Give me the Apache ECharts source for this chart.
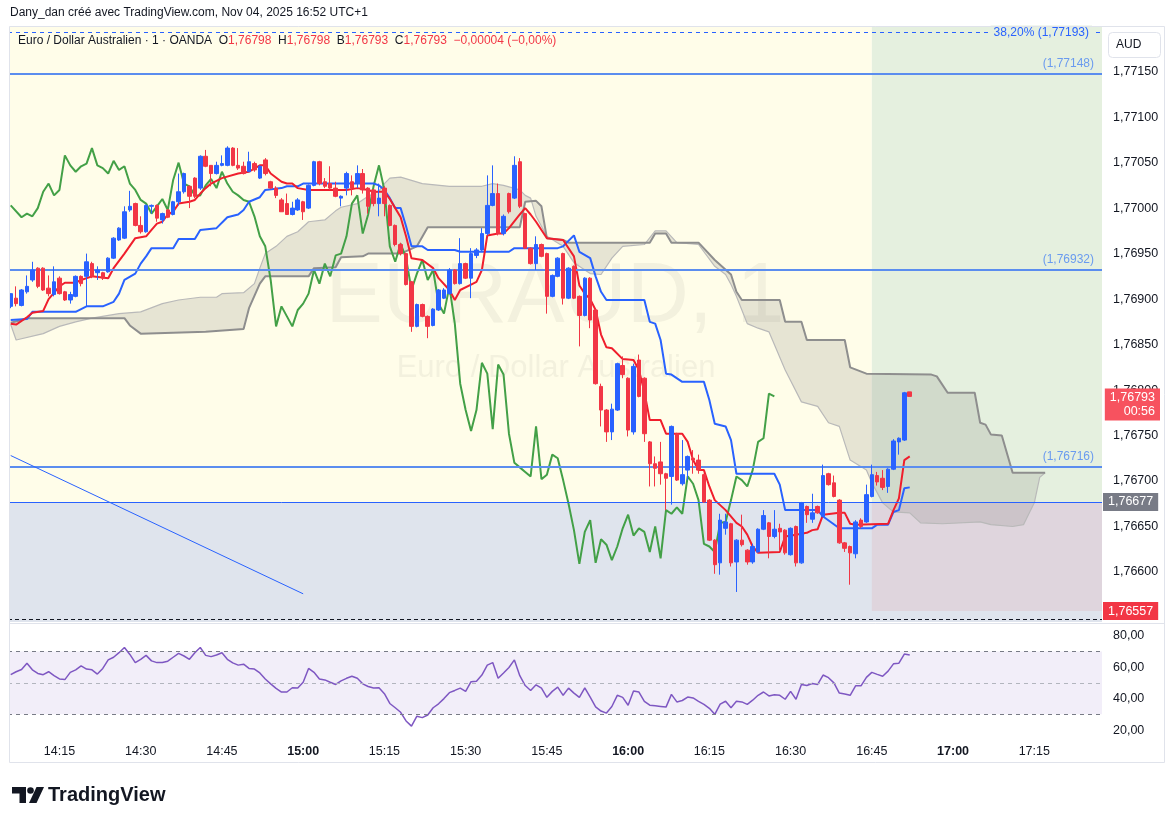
<!DOCTYPE html>
<html>
<head>
<meta charset="utf-8">
<title>EURAUD 1</title>
<script src="https://cdn.jsdelivr.net/npm/echarts@6/dist/echarts.min.js"></script>
<style>
html,body{margin:0;padding:0;background:#ffffff;}
#chart{width:1175px;height:824px;}
</style>
</head>
<body>
<div id="chart"></div>
<script>
// ---------- DATA ----------
const firstMinute = 14 * 60 + 6;   // first bar 14:06
const categoryCount = 202;         // 14:06 .. 17:27 (future space included)
const categories = Array.from({length: categoryCount}, (_, k) => {
  const m = firstMinute + k;
  return String(Math.floor(m / 60)).padStart(2, '0') + ':' + String(m % 60).padStart(2, '0');
});
const timeTicks = ['14:15','14:30','14:45','15:00','15:15','15:30','15:45','16:00','16:15','16:30','16:45','17:00','17:15'];
const boldTimeTicks = ['15:00','16:00','17:00'];
const priceTicks = [1.7660,1.7665,1.7670,1.7675,1.7680,1.7685,1.7690,1.7695,1.7700,1.7705,1.7710,1.7715];
const rsiTicks = [20,40,60,80];

const opens = [1.76892,1.76901,1.76893,1.76908,1.76921,1.76934,1.76934,1.76912,1.76905,1.76923,
1.76908,1.76899,1.76903,1.76925,1.76925,1.76939,1.76929,1.76929,1.76930,1.76945,
1.76965,1.76967,1.76998,1.77005,1.76981,1.76974,1.77002,1.77003,1.76987,1.76998,
1.76993,1.77007,1.77018,1.77024,1.77033,1.77022,1.77057,1.77047,1.77038,1.77047,
1.77047,1.77066,1.77047,1.77046,1.77040,1.77049,1.77033,1.77053,1.77029,1.77022,
1.77009,1.77005,1.76993,1.76998,1.77007,1.77000,1.77025,1.77051,1.77029,1.77027,
1.77022,1.77011,1.77022,1.77029,1.77027,1.77038,1.77022,1.77020,1.77005,1.77022,
1.77003,1.76981,1.76960,1.76950,1.76919,1.76870,1.76894,1.76881,1.76871,1.76888,
1.76901,1.76906,1.76932,1.76917,1.76939,1.76923,1.76948,1.76954,1.76972,1.77003,
1.77016,1.76972,1.77016,1.77011,1.77051,1.76994,1.76956,1.76939,1.76960,1.76950,
1.76903,1.76925,1.76950,1.76901,1.76936,1.76903,1.76882,1.76923,1.76888,1.76804,
1.76778,1.76754,1.76778,1.76827,1.76813,1.76754,1.76833,1.76813,1.76743,1.76719,
1.76721,1.76708,1.76705,1.76752,1.76697,1.76712,1.76725,1.76723,1.76707,1.76679,
1.76635,1.76610,1.76648,1.76653,1.76611,1.76635,1.76624,1.76611,1.76622,1.76647,
1.76654,1.76639,1.76648,1.76646,1.76619,1.76650,1.76610,1.76672,1.76658,1.76672,
1.76661,1.76708,1.76698,1.76679,1.76632,1.76628,1.76620,1.76657,1.76655,1.76683,
1.76706,1.76703,1.76694,1.76713,1.76743,1.76745,1.76798];
const highs = [1.76906,1.76914,1.76911,1.76926,1.76941,1.76935,1.76935,1.76926,1.76936,1.76925,
1.76909,1.76908,1.76926,1.76926,1.76950,1.76941,1.76936,1.76930,1.76946,1.76968,
1.76979,1.77002,1.77019,1.77006,1.76991,1.77004,1.77004,1.77004,1.76995,1.76999,
1.77008,1.77038,1.77039,1.77025,1.77034,1.77058,1.77064,1.77047,1.77051,1.77058,
1.77068,1.77067,1.77066,1.77051,1.77062,1.77051,1.77047,1.77055,1.77030,1.77024,
1.77011,1.77016,1.77007,1.77011,1.77008,1.77026,1.77052,1.77052,1.77033,1.77046,
1.77029,1.77014,1.77040,1.77036,1.77047,1.77043,1.77023,1.77021,1.77027,1.77024,
1.77004,1.76982,1.76962,1.76951,1.76920,1.76895,1.76895,1.76882,1.76890,1.76911,
1.76912,1.76934,1.76933,1.76967,1.76940,1.76956,1.76956,1.76978,1.77036,1.77047,
1.77027,1.76993,1.77017,1.77057,1.77055,1.76995,1.76957,1.76969,1.76961,1.76951,
1.76927,1.76946,1.76951,1.76935,1.76937,1.76904,1.76924,1.76924,1.76889,1.76807,
1.76779,1.76785,1.76830,1.76837,1.76814,1.76829,1.76839,1.76814,1.76744,1.76727,
1.76743,1.76709,1.76761,1.76753,1.76745,1.76728,1.76734,1.76729,1.76708,1.76680,
1.76636,1.76664,1.76664,1.76654,1.76636,1.76663,1.76625,1.76631,1.76648,1.76668,
1.76655,1.76668,1.76653,1.76647,1.76649,1.76651,1.76677,1.76673,1.76686,1.76673,
1.76718,1.76709,1.76706,1.76680,1.76633,1.76629,1.76657,1.76659,1.76696,1.76718,
1.76710,1.76712,1.76714,1.76746,1.76748,1.76798,1.76798];
const lows = [1.76890,1.76892,1.76892,1.76906,1.76919,1.76912,1.76909,1.76903,1.76903,1.76905,
1.76898,1.76895,1.76902,1.76914,1.76892,1.76923,1.76921,1.76921,1.76929,1.76944,
1.76964,1.76966,1.76996,1.76980,1.76972,1.76973,1.76994,1.76985,1.76983,1.76989,
1.76992,1.77003,1.77016,1.77000,1.77011,1.77020,1.77045,1.77024,1.77037,1.77046,
1.77046,1.77046,1.77042,1.77037,1.77040,1.77040,1.77032,1.77036,1.77021,1.77011,
1.76996,1.76993,1.76992,1.76997,1.76987,1.76999,1.77024,1.77025,1.77022,1.77020,
1.77012,1.77002,1.77014,1.77014,1.77022,1.77016,1.76994,1.77002,1.76991,1.76991,
1.76980,1.76958,1.76948,1.76915,1.76864,1.76869,1.76880,1.76857,1.76870,1.76887,
1.76900,1.76905,1.76916,1.76916,1.76922,1.76901,1.76945,1.76953,1.76970,1.77002,
1.76970,1.76970,1.76994,1.77010,1.77000,1.76955,1.76938,1.76932,1.76946,1.76884,
1.76902,1.76924,1.76894,1.76900,1.76900,1.76848,1.76881,1.76868,1.76806,1.76760,
1.76743,1.76745,1.76777,1.76813,1.76749,1.76751,1.76792,1.76743,1.76694,1.76694,
1.76696,1.76668,1.76674,1.76700,1.76695,1.76701,1.76708,1.76708,1.76676,1.76634,
1.76598,1.76597,1.76641,1.76606,1.76578,1.76628,1.76608,1.76609,1.76621,1.76646,
1.76615,1.76637,1.76624,1.76619,1.76618,1.76606,1.76609,1.76654,1.76654,1.76664,
1.76660,1.76695,1.76682,1.76631,1.76622,1.76586,1.76615,1.76648,1.76654,1.76682,
1.76695,1.76690,1.76687,1.76712,1.76729,1.76744,1.76793];
const closes = [1.76906,1.76895,1.76910,1.76914,1.76932,1.76914,1.76910,1.76906,1.76919,1.76906,
1.76899,1.76905,1.76925,1.76917,1.76941,1.76925,1.76932,1.76923,1.76945,1.76967,
1.76978,1.76996,1.77002,1.76981,1.76974,1.77003,1.77003,1.76989,1.76994,1.76990,
1.77007,1.77018,1.77038,1.77013,1.77013,1.77057,1.77046,1.77038,1.77047,1.77049,
1.77066,1.77047,1.77044,1.77038,1.77051,1.77042,1.77046,1.77038,1.77022,1.77014,
1.76996,1.76993,1.77000,1.77009,1.76996,1.77025,1.77051,1.77027,1.77024,1.77022,
1.77013,1.77013,1.77038,1.77022,1.77038,1.77020,1.77002,1.77005,1.77011,1.77005,
1.76981,1.76960,1.76950,1.76916,1.76870,1.76894,1.76881,1.76870,1.76889,1.76910,
1.76910,1.76932,1.76917,1.76939,1.76923,1.76950,1.76954,1.76972,1.77003,1.77016,
1.76972,1.76991,1.76996,1.77047,1.77002,1.76956,1.76939,1.76960,1.76947,1.76903,
1.76926,1.76945,1.76901,1.76934,1.76901,1.76882,1.76923,1.76877,1.76807,1.76778,
1.76754,1.76779,1.76829,1.76817,1.76756,1.76826,1.76793,1.76752,1.76719,1.76714,
1.76708,1.76703,1.76760,1.76701,1.76707,1.76727,1.76723,1.76712,1.76677,1.76635,
1.76608,1.76657,1.76655,1.76610,1.76635,1.76630,1.76611,1.76628,1.76647,1.76662,
1.76639,1.76647,1.76644,1.76621,1.76648,1.76610,1.76676,1.76663,1.76665,1.76665,
1.76706,1.76696,1.76683,1.76632,1.76626,1.76621,1.76655,1.76650,1.76685,1.76707,
1.76699,1.76693,1.76713,1.76744,1.76747,1.76797,1.76793];

// Ichimoku lines, [bar index, price] vertices
const tenkan = [[0,1.76873],[1,1.76872],[3,1.76880],[4,1.76885],[6,1.76887],[7,1.76900],[9,1.76914],[10,1.76918],[12,1.76918],[13,1.76921],[15,1.76925],[18,1.76923],[19,1.76934],[21,1.76950],[23,1.76967],[25,1.76969],[26,1.76976],[27,1.76983],[28,1.76985],[29,1.76993],[30,1.76996],[31,1.77005],[33,1.77007],[34,1.77009],[35,1.77016],[36,1.77022],[37,1.77027],[39,1.77033],[42,1.77038],[44,1.77040],[46,1.77047],[47,1.77047],[48,1.77038],[50,1.77029],[51,1.77027],[52,1.77027],[53,1.77022],[55,1.77020],[62,1.77020],[64,1.77022],[66,1.77020],[67,1.77018],[69,1.77018],[70,1.77010],[71,1.77000],[72,1.76990],[73,1.76969],[74,1.76945],[76,1.76943],[78,1.76934],[79,1.76923],[81,1.76910],[82,1.76899],[83,1.76910],[85,1.76916],[86,1.76919],[87,1.76932],[88,1.76970],[90,1.76972],[91,1.76972],[92,1.76978],[94,1.76993],[95,1.77000],[96,1.76993],[97,1.76985],[98,1.76976],[99,1.76967],[102,1.76965],[104,1.76947],[105,1.76915],[106,1.76906],[107,1.76900],[108,1.76888],[109,1.76861],[110,1.76847],[111,1.76846],[113,1.76834],[115,1.76833],[116,1.76822],[117,1.76798],[118,1.76767],[120,1.76767],[121,1.76752],[124,1.76752],[125,1.76743],[126,1.76723],[127,1.76712],[128,1.76712],[129,1.76694],[130,1.76679],[132,1.76668],[134,1.76654],[135,1.76650],[136,1.76641],[137,1.76628],[138,1.76621],[142,1.76622],[143,1.76639],[145,1.76641],[147,1.76643],[148,1.76646],[149,1.76647],[150,1.76663],[153,1.76665],[154,1.76665],[155,1.76653],[156,1.76652],[162,1.76653],[163,1.76668],[164,1.76681],[165,1.76723],[166,1.76727]];
const kijun = [[0,1.76877],[3,1.76878],[4,1.76886],[12,1.76886],[14,1.76892],[17,1.76892],[19,1.76897],[20,1.76906],[21,1.76921],[23,1.76928],[24,1.76939],[25,1.76947],[26,1.76956],[30,1.76956],[31,1.76966],[34,1.76966],[35,1.76976],[38,1.76978],[40,1.76990],[42,1.76993],[43,1.76998],[44,1.77007],[46,1.77012],[47,1.77020],[50,1.77022],[51,1.77024],[53,1.77024],[54,1.77027],[67,1.77027],[68,1.77025],[69,1.77020],[70,1.77011],[71,1.77000],[72,1.77000],[73,1.76980],[74,1.76958],[76,1.76958],[77,1.76954],[82,1.76954],[83,1.76952],[92,1.76952],[93,1.76956],[101,1.76956],[102,1.76958],[104,1.76970],[105,1.76952],[107,1.76945],[108,1.76925],[109,1.76908],[110,1.76899],[117,1.76899],[118,1.76875],[119,1.76873],[120,1.76855],[121,1.76818],[122,1.76817],[124,1.76809],[128,1.76809],[129,1.76789],[130,1.76763],[132,1.76760],[133,1.76745],[134,1.76708],[141,1.76708],[142,1.76696],[143,1.76668],[149,1.76668],[150,1.76661],[153,1.76648],[159,1.76648],[160,1.76652],[162,1.76652],[163,1.76666],[164,1.76668],[165,1.76692],[166,1.76693]];
const chikou = [[0,1.77003],[2,1.76990],[3,1.76994],[4,1.76991],[5,1.77000],[6,1.77018],[7,1.77027],[8,1.77014],[9,1.77020],[10,1.77058],[11,1.77047],[12,1.77040],[13,1.77046],[14,1.77049],[15,1.77066],[16,1.77047],[17,1.77044],[18,1.77038],[19,1.77052],[20,1.77042],[21,1.77046],[22,1.77027],[23,1.77020],[24,1.77009],[25,1.77005],[26,1.76994],[27,1.77002],[28,1.77010],[29,1.76998],[30,1.77031],[31,1.77050],[32,1.77027],[33,1.77024],[34,1.77014],[35,1.77014],[36,1.77025],[37,1.77032],[38,1.77022],[39,1.77040],[40,1.77027],[41,1.77018],[42,1.77014],[43,1.77009],[44,1.77007],[45,1.76991],[46,1.76969],[47,1.76958],[48,1.76921],[49,1.76870],[50,1.76892],[51,1.76881],[52,1.76870],[53,1.76888],[54,1.76895],[55,1.76906],[56,1.76932],[57,1.76917],[58,1.76939],[59,1.76925],[60,1.76948],[61,1.76950],[62,1.76969],[63,1.77005],[64,1.77014],[65,1.76972],[66,1.76993],[67,1.77024],[68,1.77047],[69,1.77020],[70,1.76958],[71,1.76941],[72,1.76961],[73,1.76945],[74,1.76910],[75,1.76928],[76,1.76943],[77,1.76921],[78,1.76932],[79,1.76895],[80,1.76884],[81,1.76914],[82,1.76873],[83,1.76807],[84,1.76778],[85,1.76755],[86,1.76778],[87,1.76830],[88,1.76818],[89,1.76757],[90,1.76828],[91,1.76817],[92,1.76752],[93,1.76720],[94,1.76715],[95,1.76710],[96,1.76705],[97,1.76760],[98,1.76702],[99,1.76707],[100,1.76729],[101,1.76725],[102,1.76701],[103,1.76675],[104,1.76646],[105,1.76609],[106,1.76644],[107,1.76657],[108,1.76610],[109,1.76636],[110,1.76630],[111,1.76613],[112,1.76628],[113,1.76648],[114,1.76663],[115,1.76640],[116,1.76648],[117,1.76644],[118,1.76622],[119,1.76650],[120,1.76615],[121,1.76668],[122,1.76664],[123,1.76671],[124,1.76664],[125,1.76705],[126,1.76697],[127,1.76679],[128,1.76631],[129,1.76628],[130,1.76622],[131,1.76654],[132,1.76655],[133,1.76679],[134,1.76705],[135,1.76701],[136,1.76694],[137,1.76712],[138,1.76743],[139,1.76747],[140,1.76796],[141,1.76793]];
const spanDark = [[0,1.76874],[2,1.76877],[3,1.76879],[21,1.76879],[22,1.76871],[24,1.76862],[36,1.76864],[43,1.76867],[44,1.76890],[46,1.76917],[47,1.76925],[55,1.76925],[56,1.76934],[60,1.76935],[61,1.76946],[65,1.76947],[66,1.76950],[72,1.76950],[75,1.76958],[77,1.76979],[94,1.76979],[95,1.77007],[97,1.77008],[98,1.77002],[99,1.76967],[102,1.76965],[103,1.76962],[118,1.76962],[119,1.76972],[121,1.76972],[122,1.76962],[127,1.76962],[130,1.76943],[133,1.76927],[134,1.76908],[135,1.76899],[142,1.76899],[143,1.76875],[146,1.76875],[147,1.76855],[154,1.76855],[155,1.76825],[158,1.76818],[170,1.76817],[171,1.76815],[173,1.76797],[178,1.76797],[179,1.76764],[180,1.76762],[181,1.76751],[183,1.76750],[185,1.76709],[191,1.76709]];
const spanLight = [[0,1.76872],[1,1.76855],[6,1.76862],[9,1.76870],[12,1.76875],[15,1.76879],[20,1.76884],[24,1.76886],[28,1.76895],[31,1.76899],[35,1.76902],[38,1.76902],[39,1.76906],[43,1.76907],[45,1.76917],[46,1.76934],[47,1.76950],[49,1.76958],[51,1.76969],[53,1.76974],[55,1.76985],[58,1.76987],[60,1.76997],[61,1.77001],[64,1.77005],[66,1.77013],[68,1.77019],[69,1.77027],[70,1.77033],[72,1.77034],[76,1.77027],[81,1.77024],[87,1.77024],[89,1.77027],[91,1.77025],[94,1.77020],[95,1.77014],[96,1.77011],[97,1.76991],[98,1.76980],[99,1.76969],[102,1.76958],[104,1.76940],[107,1.76928],[109,1.76927],[111,1.76945],[113,1.76958],[117,1.76960],[119,1.76975],[121,1.76975],[123,1.76962],[127,1.76960],[130,1.76936],[132,1.76927],[133,1.76916],[134,1.76903],[135,1.76888],[136,1.76873],[138,1.76868],[140,1.76864],[143,1.76822],[146,1.76787],[149,1.76782],[151,1.76764],[153,1.76760],[155,1.76723],[158,1.76712],[159,1.76698],[161,1.76676],[163,1.76666],[166,1.76665],[168,1.76654],[172,1.76653],[179,1.76655],[181,1.76652],[185,1.76650],[187,1.76652],[189,1.76676],[190,1.76704],[191,1.76709]];

const rsi = [55.2,57.1,58.5,62.5,58.3,56,55.2,57.1,54.6,52.5,
52.1,56.7,58.3,60.8,58.8,58.3,55.6,59.2,64.6,66.3,
69.2,72.5,68.1,62.9,65,67.5,64,62.9,62.9,63.8,
66.3,68.8,67.1,65,69.2,72.5,67.5,66.7,67.7,69.2,
65,62.7,61.3,61.9,59.2,58.8,56.3,52.5,49.4,46.5,
44.2,44.2,46.9,46.7,50.4,59.2,56.7,52.5,51.9,50.4,
49,51.3,52.9,54.2,52.9,49.4,47.7,46.7,46.9,43.1,
36.9,34.2,31.3,25.8,22.5,28.8,27.9,29.6,34.2,36.7,
40,43.8,45.2,46.7,44.6,50.8,51,55,61.3,62.9,
52.9,56.3,59.8,64.6,54.6,48.3,45.2,48.8,46.7,40.8,
44.6,47.3,42.1,46.7,43.5,40.8,46.9,41,34.8,32.1,
30.8,35,42.1,40.8,35.8,44.8,44.2,38.3,35.8,35.4,
35,34.6,42.7,37.9,38.8,41,40.4,38.3,36.3,33.8,
30,36.5,38.3,34.2,38.3,37.9,36.3,39,42.1,44.2,
41.7,42.5,42.1,39.6,44.6,39.6,49,48.3,49.6,49,
55,53.3,50,43.5,42.9,42.1,48.1,48.1,53.5,56.7,
55.4,54.2,57.5,62.1,62.5,68.3,67.7];
const rsiLevels = [70, 50, 30];
const rsiBand = [30, 70];

// Drawings
const priceLevels = [1.77148, 1.76932, 1.76716];
const fibLevel = 1.77193;
const fibText = '38,20%';
const entryPrice = 1.76677;
const stopPrice = 1.76557;
const lowerDashed = 1.76548;
const trendLine = [[0, 1.76728], [54, 1.76576]];
const positionStartIndex = 159;
const countdownText = '00:56';
const priceMin = 1.76545, priceMax = 1.7720;
const rsiMin = 14, rsiMax = 87;

const headerText = 'Dany_dan créé avec TradingView.com, Nov 04, 2025 16:52 UTC+1';
const symbolText = 'Euro / Dollar Australien · 1 · OANDA';
const watermarkMain = 'EURAUD, 1';
const watermarkSub = 'Euro / Dollar Australien';

// ---------- HELPERS ----------
const FONT = '"Liberation Sans", Arial, sans-serif';
const fmt = v => v.toFixed(5).replace('.', ',');
const last = opens.length - 1;
const chg = closes[last] - closes[last - 1];
const chgPct = chg / closes[last - 1] * 100;
const signed = (v, d) => (v < 0 ? '\u2212' : '+') + Math.abs(v).toFixed(d).replace('.', ',');
const CLEAR = 'rgba(0,0,0,0)';

// zone bounds: [fromIndex|null, toIndex|null, low, high]
const zoneBounds = [
  [null, null, priceMin, entryPrice],
  [null, positionStartIndex, entryPrice, priceMax],
  [positionStartIndex, null, entryPrice, priceMax],
  [positionStartIndex, null, stopPrice, entryPrice]
];
const zoneColors = ['#dfe4ed', '#fffde9', '#e5f0df', '#dfd5dd'];

function zoneRenderer(bounds, colors) {
  return function (params, api) {
    const cs = params.coordSys;
    const z = bounds[params.dataIndex];
    const x0 = z[0] === null ? cs.x : api.coord([z[0], z[3]])[0];
    const x1 = z[1] === null ? cs.x + cs.width : api.coord([z[1], z[3]])[0];
    const yTop = api.coord([0, z[3]])[1];
    const yBot = api.coord([0, z[2]])[1];
    return { type: 'rect', silent: true,
      shape: { x: x0, y: yTop, width: x1 - x0, height: yBot - yTop },
      style: { fill: colors[params.dataIndex] } };
  };
}

const candleData = opens.map((o, k) => [o, closes[k], lows[k], highs[k]]);

const axisLabelStyle = { color: '#131722', fontSize: 12.5, fontFamily: FONT };

const lineSeries = (name, data, color, width, z) => ({
  name, type: 'line', data, xAxisIndex: 0, yAxisIndex: 0, showSymbol: false, symbol: 'none',
  lineStyle: { color, width }, z, silent: true, clip: true
});

const axisTagLabel = (text, bg) => ({ show: true, position: 'end', distance: 1, formatter: text, backgroundColor: bg,
  color: '#ffffff', padding: [3, 5, 2, 5], fontSize: 12.5, fontFamily: FONT });

const drawingMarkLines = [
  { yAxis: fibLevel, lineStyle: { color: '#2962ff', width: 1, type: [4, 4] },
    label: { show: true, position: 'insideEnd', distance: 10, formatter: fibText + ' (' + fmt(fibLevel) + ')',
      color: '#2962ff', backgroundColor: '#e5f0df', padding: [1, 3], fontSize: 12, fontFamily: FONT } },
  ...priceLevels.map(p => ({ yAxis: p, lineStyle: { color: '#5b8def', width: 2, type: 'solid' },
    label: { show: true, position: 'insideEndTop', distance: [8, 4], formatter: '(' + fmt(p) + ')',
      color: '#6a9bef', fontSize: 12, fontFamily: FONT } })),
  { yAxis: entryPrice, lineStyle: { color: '#2962ff', width: 1, type: 'solid' }, label: axisTagLabel(fmt(entryPrice), '#787b86') },
  { yAxis: lowerDashed, lineStyle: { color: '#131722', width: 1, type: [4, 3] }, label: { show: false } },
  { yAxis: stopPrice, lineStyle: { color: CLEAR, width: 1 }, label: axisTagLabel(fmt(stopPrice), '#f23645') },
  { yAxis: closes[last], lineStyle: { color: CLEAR, width: 1 },
    label: { show: true, position: 'insideEndBottom', distance: [-58, -8],
      formatter: fmt(closes[last]) + '\n' + countdownText, backgroundColor: '#f7525f',
      color: '#ffffff', lineHeight: 14, padding: [2, 5, 2, 5], fontSize: 12.5, fontFamily: FONT } }
];

const trendSeries = lineSeries('trend', trendLine, '#2962ff', 1, 6);
trendSeries.markLine = { silent: true, symbol: ['none', 'none'], animation: false, precision: 5, data: drawingMarkLines };

const option = {
  animation: false,
  backgroundColor: '#ffffff',
  grid: [
    { left: 8, width: 1094, top: 26.2, height: 595.8, outerBoundsMode: 'none', containLabel: false },
    { left: 8, width: 1094, top: 624.7, height: 114.8, outerBoundsMode: 'none', containLabel: false }
  ],
  xAxis: [
    { type: 'category', data: categories, gridIndex: 0, boundaryGap: true,
      axisLine: { show: false }, axisTick: { show: false }, axisLabel: { show: false }, splitLine: { show: false } },
    { type: 'category', data: categories, gridIndex: 1, boundaryGap: true,
      axisLine: { show: false }, axisTick: { show: false }, splitLine: { show: false },
      axisLabel: Object.assign({}, axisLabelStyle, {
        margin: 6,
        interval: (index, value) => timeTicks.includes(value),
        formatter: v => boldTimeTicks.includes(v) ? '{b|' + v + '}' : v,
        rich: { b: { fontWeight: 'bold', fontSize: 12.5, color: '#131722', fontFamily: FONT } }
      }) }
  ],
  yAxis: [
    { type: 'value', gridIndex: 0, position: 'right', min: priceMin, max: priceMax, interval: 0.00005, scale: true,
      axisLine: { show: false }, axisTick: { show: false }, splitLine: { show: false },
      axisLabel: Object.assign({}, axisLabelStyle, { margin: 11,
        formatter: v => priceTicks.some(t => Math.abs(t - v) < 1e-7) ? fmt(v) : '' }) },
    { type: 'value', gridIndex: 1, position: 'right', min: rsiMin, max: rsiMax, interval: 1,
      axisLine: { show: false }, axisTick: { show: false }, splitLine: { show: false },
      axisLabel: Object.assign({}, axisLabelStyle, { margin: 11,
        formatter: v => (Math.abs(v - Math.round(v)) < 1e-6 && rsiTicks.includes(Math.round(v))) ? v.toFixed(2).replace('.', ',') : '' }) }
  ],
  series: [
    { name: 'zones', type: 'custom', xAxisIndex: 0, yAxisIndex: 0, z: 0, silent: true, clip: true,
      data: zoneBounds.map(z => [0, z[2]]), renderItem: zoneRenderer(zoneBounds, zoneColors) },
    { name: 'rsiBand', type: 'custom', xAxisIndex: 1, yAxisIndex: 1, z: 0, silent: true, clip: true,
      data: [[0, rsiBand[0]]], renderItem: zoneRenderer([[null, null, rsiBand[0], rsiBand[1]]], ['rgba(126,87,194,0.1)']) },
    { name: 'cloud', type: 'custom', xAxisIndex: 0, yAxisIndex: 0, z: 2, silent: true, clip: true,
      data: [[0, spanDark[0][1]]],
      renderItem: (params, api) => {
        const pts = spanDark.map(d => api.coord(d)).concat(spanLight.slice().reverse().map(d => api.coord(d)));
        return { type: 'polygon', shape: { points: pts }, style: { fill: 'rgba(130,130,125,0.2)' } };
      } },
    lineSeries('spanLight', spanLight, '#b9b9b9', 1.2, 3),
    lineSeries('spanDark', spanDark, '#8e8e8e', 2, 3),
    lineSeries('chikou', chikou, '#43a047', 2, 4),
    lineSeries('kijun', kijun, '#2962ff', 2, 4),
    lineSeries('tenkan', tenkan, '#f01e2c', 2, 4),
    { name: 'EURAUD', type: 'candlestick', xAxisIndex: 0, yAxisIndex: 0, z: 5, barWidth: 4, silent: true,
      data: candleData,
      itemStyle: { color: '#2962ff', color0: '#f23645', borderColor: '#2962ff', borderColor0: '#f23645', borderWidth: 1 } },
    trendSeries,
    { name: 'RSI', type: 'line', xAxisIndex: 1, yAxisIndex: 1, data: rsi, showSymbol: false, symbol: 'none', z: 4,
      lineStyle: { color: '#7e57c2', width: 1.5 }, silent: true,
      markLine: { silent: true, symbol: ['none', 'none'], animation: false, label: { show: false },
        data: rsiLevels.map(v => ({ yAxis: v, lineStyle: { color: v === 50 ? '#b2b5be' : '#787b86', width: 1, type: [4, 4] } })) } }
  ],
  graphic: [
    { type: 'text', x: 555, y: 298, z: 1, silent: true,
      style: { text: watermarkMain, font: '86px ' + FONT, fill: 'rgba(120,120,110,0.09)', align: 'center', verticalAlign: 'middle', textAlign: 'center', textVerticalAlign: 'middle' } },
    { type: 'text', x: 556, y: 368, z: 1, silent: true,
      style: { text: watermarkSub, font: '31px ' + FONT, fill: 'rgba(120,120,110,0.09)', align: 'center', verticalAlign: 'middle', textAlign: 'center', textVerticalAlign: 'middle' } },
    { type: 'rect', z: 50, silent: true, shape: { x: 0, y: 20, width: 9.5, height: 750 }, style: { fill: '#ffffff' } },
    { type: 'rect', z: 51, silent: true, shape: { x: 9.5, y: 26.5, width: 1155, height: 736 }, style: { fill: 'none', stroke: '#e0e3eb', lineWidth: 1 } },
    { type: 'line', z: 51, silent: true, shape: { x1: 9.5, y1: 623.5, x2: 1164.5, y2: 623.5 }, style: { stroke: '#e0e3eb', lineWidth: 1 } },
    { type: 'text', x: 10, y: 7, z: 60, silent: true,
      style: { text: headerText, font: '12px ' + FONT, fill: '#131722' } },
    { type: 'text', x: 18, y: 35, z: 60, silent: true,
      style: {
        text: '{n|' + symbolText + '}  {n|O}{v|' + fmt(opens[last]) + '}  {n|H}{v|' + fmt(highs[last]) + '}  {n|B}{v|' + fmt(lows[last]) + '}  {n|C}{v|' + fmt(closes[last]) + '}  {v|' + signed(chg, 5) + ' (' + signed(chgPct, 2) + '%)}',
        font: '12px ' + FONT,
        rich: { n: { fill: '#131722', font: '12px ' + FONT }, v: { fill: '#f23645', font: '12px ' + FONT } }
      } },
    { type: 'group', z: 60, silent: true, children: [
      { type: 'rect', shape: { x: 1108.5, y: 32.5, width: 52, height: 25, r: 4 }, style: { fill: '#ffffff', stroke: '#e0e3eb', lineWidth: 1 } },
      { type: 'text', x: 1116, y: 39, style: { text: 'AUD', font: '12px ' + FONT, fill: '#131722' } }
    ] },
    { type: 'group', z: 60, silent: true, children: [
      { type: 'polygon', shape: { points: [[12, 787], [26, 787], [26, 803], [19.5, 803], [19.5, 793.5], [12, 793.5]] }, style: { fill: '#131722' } },
      { type: 'circle', shape: { cx: 30.5, cy: 790.5, r: 3.3 }, style: { fill: '#131722' } },
      { type: 'polygon', shape: { points: [[36.5, 787], [44, 787], [36.5, 803], [29, 803]] }, style: { fill: '#131722' } },
      { type: 'text', x: 48, y: 785, style: { text: 'TradingView', font: 'bold 20px ' + FONT, fill: '#131722' } }
    ] }
  ]
};

const chart = echarts.init(document.getElementById('chart'), null, { renderer: 'canvas' });
chart.setOption(option);
</script>
</body>
</html>
